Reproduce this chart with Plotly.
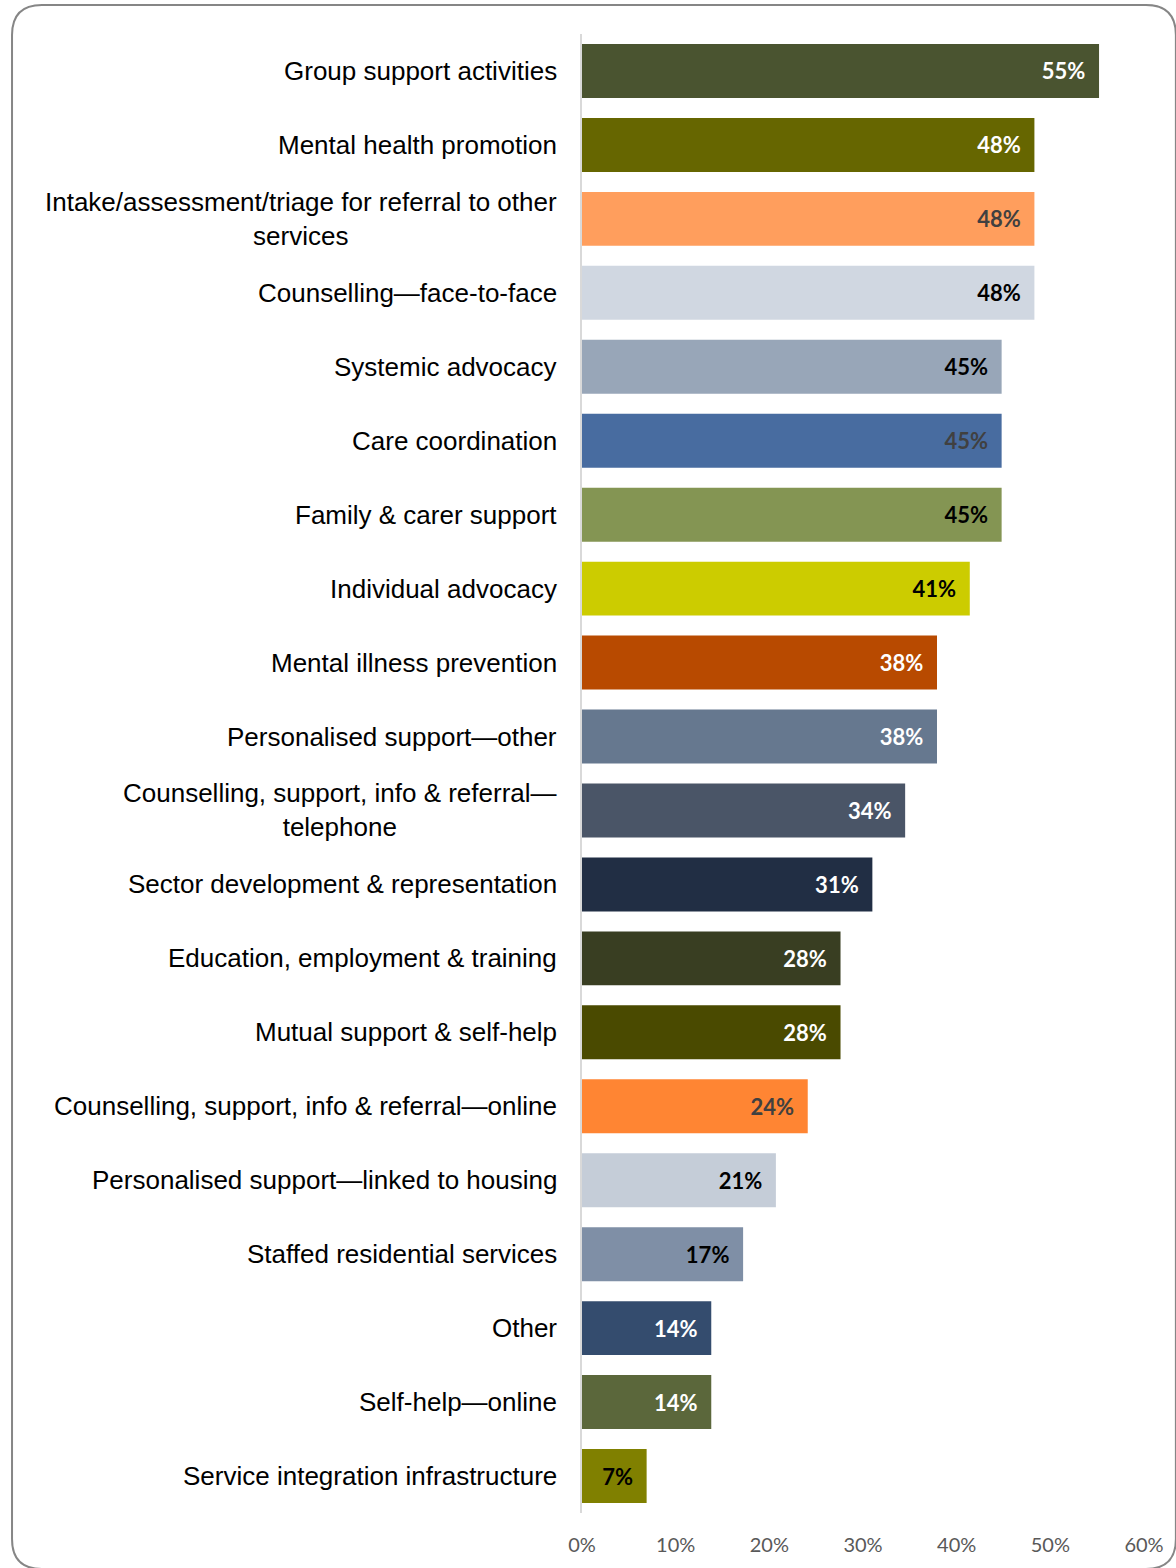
import plotly.graph_objects as go

categories = [
    "Group support activities",
    "Mental health promotion",
    "Intake/assessment/triage for referral to other<br>services",
    "Counselling—face-to-face",
    "Systemic advocacy",
    "Care coordination",
    "Family & carer support",
    "Individual advocacy",
    "Mental illness prevention",
    "Personalised support—other",
    "Counselling, support, info & referral—<br>telephone",
    "Sector development & representation",
    "Education, employment & training",
    "Mutual support & self-help",
    "Counselling, support, info & referral—online",
    "Personalised support—linked to housing",
    "Staffed residential services",
    "Other",
    "Self-help—online",
    "Service integration infrastructure",
]
values = [55.2, 48.3, 48.3, 48.3, 44.8, 44.8, 44.8, 41.4, 37.9, 37.9,
          34.5, 31.0, 27.6, 27.6, 24.1, 20.7, 17.2, 13.8, 13.8, 6.9]
bar_colors = ["#4A5430", "#666600", "#FF9E5D", "#D0D7E1", "#98A6B8",
              "#486CA0", "#849553", "#CCCC00", "#B84A00", "#66788F",
              "#4A5567", "#212E44", "#393E22", "#4A4A00", "#FF8533",
              "#C5CDD8", "#7F8FA6", "#344C6E", "#5B673B", "#808000"]
label_colors = ["#FFFFFF", "#FFFFFF", "#404040", "#000000", "#000000",
                "#404040", "#000000", "#000000", "#FFFFFF", "#FFFFFF",
                "#FFFFFF", "#FFFFFF", "#FFFFFF", "#FFFFFF", "#404040",
                "#000000", "#000000", "#FFFFFF", "#FFFFFF", "#000000"]
x_ticks = [0, 10, 20, 30, 40, 50, 60]
x_tick_labels = ["0%", "10%", "20%", "30%", "40%", "50%", "60%"]

W, H = 1176, 1568
ML, MR, MT, MB = 582, 30, 34, 54
PW, PH = W - ML - MR, H - MT - MB

fig = go.Figure()
fig.add_trace(go.Bar(
    x=values,
    y=categories,
    orientation="h",
    marker=dict(color=bar_colors, line=dict(width=0)),
    text=[f"{v:.0f}%" for v in values],
    texttemplate="%{text}&nbsp;&nbsp;",
    textposition="inside",
    insidetextanchor="end",
    textangle=0,
    constraintext="none",
    insidetextfont=dict(family="Lato", size=22, color=label_colors, weight="bold"),
    hoverinfo="skip",
))

for c in categories:
    fig.add_annotation(
        x=0, y=c, xref="paper", yref="y",
        text=c, showarrow=False,
        xanchor="right", yanchor="middle", align="center",
        xshift=-23,
        font=dict(family="Liberation Sans", size=26, color="#000000"),
    )


def px2paper(px, py):
    return (px - ML) / PW, (H - MB - py) / PH


def P(px, py):
    x, y = px2paper(px, py)
    return f"{x:.5f},{y:.5f}"


L, T, R, B, rad = 10, 5, 1178, 1570, 30
path = (f"M {P(L, T + rad)} Q {P(L, T)} {P(L + rad, T)} L {P(R - rad, T)} "
        f"Q {P(R, T)} {P(R, T + rad)} L {P(R, B - rad)} Q {P(R, B)} {P(R - rad, B)} "
        f"L {P(L + rad, B)} Q {P(L, B)} {P(L, B - rad)} Z")
fig.add_shape(type="path", path=path, xref="paper", yref="paper",
              line=dict(color="#868686", width=2), layer="below")

fig.update_layout(
    width=W, height=H,
    margin=dict(l=ML, r=MR, t=MT, b=MB),
    paper_bgcolor="white", plot_bgcolor="white",
    bargap=0.27,
    showlegend=False,
    xaxis=dict(
        range=[0, 60], tickvals=x_ticks, ticktext=x_tick_labels,
        showgrid=False, zeroline=False, showline=False, ticks="",
        ticklabelstandoff=18,
        tickfont=dict(family="Lato", size=20, color="#595959"),
        fixedrange=True,
    ),
    yaxis=dict(
        autorange="reversed", showticklabels=False, ticks="",
        showgrid=False, zeroline=False,
        showline=True, linecolor="#D9D9D9", linewidth=2,
        fixedrange=True,
    ),
)

fig.write_html("out.html")
